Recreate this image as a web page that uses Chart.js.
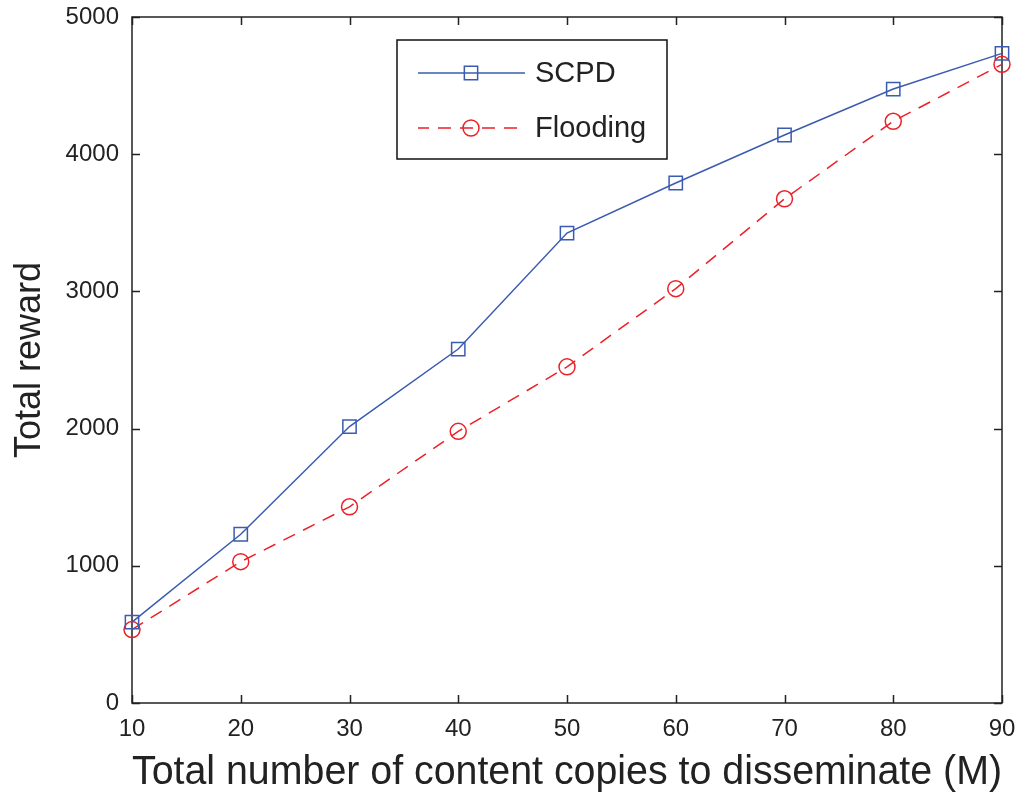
<!DOCTYPE html>
<html>
<head>
<meta charset="utf-8">
<script src="https://cdn.jsdelivr.net/npm/chart.js@4"></script>
<style>
  html, body { margin: 0; padding: 0; background: #fff; }
  #wrap { width: 1017px; height: 798px; }
</style>
</head>
<body>
<div id="wrap"><canvas id="rewardChart"></canvas></div>
<script>
// Total reward vs number of content copies (M)
const copies = [10, 20, 30, 40, 50, 60, 70, 80, 90];
const scpdReward = [590, 1230, 2015, 2580, 3425, 3790, 4140, 4475, 4735];
const floodingReward = [535, 1030, 1430, 1980, 2450, 3020, 3675, 4240, 4655];
const seriesNames = ['SCPD', 'Flooding'];

const FONT = "'Liberation Sans', Arial, sans-serif";
const INK = '#222';

// axes box with inward ticks on all four sides
const frameTicks = {
    id: 'frameTicks',
    beforeDatasetsDraw(chart) {
        const { ctx, chartArea: a, scales } = chart;
        const len = 8;
        ctx.save();
        ctx.strokeStyle = INK;
        ctx.lineWidth = 1.5;
        ctx.beginPath();
        scales.x.ticks.forEach(t => {
            const px = Math.round(scales.x.getPixelForValue(t.value)) + 0.5;
            ctx.moveTo(px, a.bottom); ctx.lineTo(px, a.bottom - len);
            ctx.moveTo(px, a.top); ctx.lineTo(px, a.top + len);
        });
        scales.y.ticks.forEach(t => {
            const py = Math.round(scales.y.getPixelForValue(t.value)) + 0.5;
            ctx.moveTo(a.left, py); ctx.lineTo(a.left + len, py);
            ctx.moveTo(a.right, py); ctx.lineTo(a.right - len, py);
        });
        ctx.stroke();
        ctx.strokeRect(a.left, a.top, a.right - a.left, a.bottom - a.top);
        ctx.restore();
    }
};

// boxed legend inside the plot area
const boxLegend = {
    id: 'boxLegend',
    afterDraw(chart) {
        const { ctx } = chart;
        const box = { x: 397, y: 40, w: 270, h: 119 };
        const rows = [73, 128];
        ctx.save();
        ctx.fillStyle = '#fff';
        ctx.fillRect(box.x, box.y, box.w, box.h);
        ctx.strokeStyle = '#111';
        ctx.lineWidth = 1.5;
        ctx.strokeRect(box.x, box.y, box.w, box.h);
        chart.data.datasets.forEach((ds, i) => {
            const y = rows[i];
            ctx.strokeStyle = ds.borderColor;
            ctx.lineWidth = ds.borderWidth;
            ctx.setLineDash(ds.borderDash || []);
            ctx.lineDashOffset = ds.borderDash ? 2 : 0;
            ctx.beginPath();
            ctx.moveTo(418, y); ctx.lineTo(525, y);
            ctx.stroke();
            ctx.setLineDash([]);
            ctx.fillStyle = 'rgba(0,0,0,0)';
            ctx.lineWidth = ds.pointBorderWidth;
            Chart.helpers.drawPoint(ctx, {
                pointStyle: ds.pointStyle,
                radius: ds.pointRadius,
                borderWidth: ds.pointBorderWidth
            }, 471, y);
            ctx.fillStyle = INK;
            ctx.font = '29px ' + FONT;
            ctx.textBaseline = 'middle';
            ctx.fillText(ds.label, 535, y + 1);
        });
        ctx.restore();
    }
};

const toPoints = vals => copies.map((c, i) => ({ x: c, y: vals[i] }));

new Chart(document.getElementById('rewardChart'), {
    type: 'line',
    data: {
        datasets: [
            {
                label: seriesNames[0],
                data: toPoints(scpdReward),
                borderColor: '#3a5bb0',
                borderWidth: 1.5,
                pointStyle: 'rect',
                pointRadius: 9.4,
                pointBorderWidth: 1.5,
                pointBorderColor: '#3a5bb0',
                pointBackgroundColor: 'rgba(0,0,0,0)',
                tension: 0,
                clip: false
            },
            {
                label: seriesNames[1],
                data: toPoints(floodingReward),
                borderColor: '#ec2027',
                borderWidth: 1.5,
                borderDash: [13, 9],
                pointStyle: 'circle',
                pointRadius: 8,
                pointBorderWidth: 1.5,
                pointBorderColor: '#ec2027',
                pointBackgroundColor: 'rgba(0,0,0,0)',
                tension: 0,
                clip: false
            }
        ]
    },
    options: {
        responsive: true,
        maintainAspectRatio: false,
        animation: false,
        layout: { padding: { left: 0, right: 15, top: 17, bottom: 0 } },
        plugins: {
            legend: { display: false },
            tooltip: { enabled: false }
        },
        scales: {
            x: {
                type: 'linear',
                min: 10,
                max: 90,
                afterFit(scale) {
                    scale.height = 95;
                    scale.paddingLeft = 0;
                    scale.paddingRight = 0;
                },
                grid: { display: false, drawTicks: false },
                border: { display: false },
                ticks: {
                    stepSize: 10,
                    padding: 12,
                    color: INK,
                    font: { family: FONT, size: 24 },
                    maxRotation: 0
                },
                title: {
                    display: true,
                    text: 'Total number of content copies to disseminate (M)',
                    color: INK,
                    font: { family: FONT, size: 40 },
                    padding: { top: 0, bottom: 1 }
                }
            },
            y: {
                min: 0,
                max: 5000,
                afterFit(scale) {
                    scale.width = 132;
                    scale.paddingTop = 0;
                    scale.paddingBottom = 0;
                },
                grid: { display: false, drawTicks: false },
                border: { display: false },
                ticks: {
                    stepSize: 1000,
                    padding: 13,
                    color: INK,
                    font: { family: FONT, size: 24 },
                    callback: v => String(v)
                },
                title: {
                    display: true,
                    text: 'Total reward',
                    color: INK,
                    font: { family: FONT, size: 36 },
                    padding: { top: 8, bottom: 0 }
                }
            }
        }
    },
    plugins: [frameTicks, boxLegend]
});
</script>
</body>
</html>
